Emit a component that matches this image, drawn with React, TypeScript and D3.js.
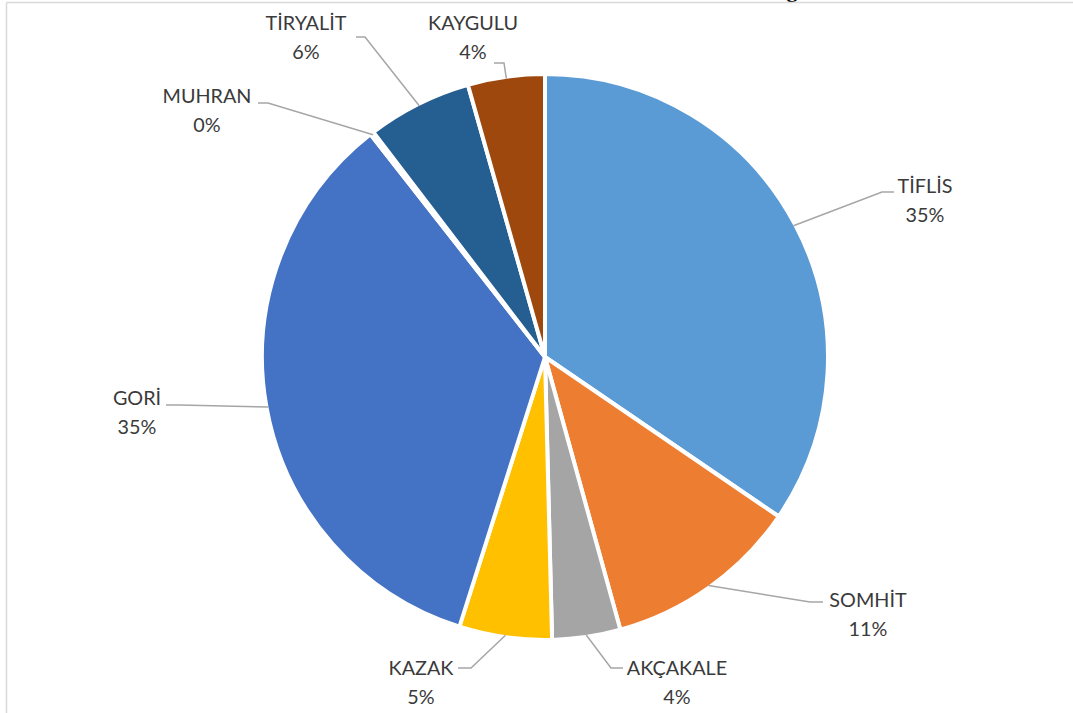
import React from 'react'
import * as d3 from 'd3'

// slice order: clockwise from 12 o'clock
const categories = ['TİFLİS', 'SOMHİT', 'AKÇAKALE', 'KAZAK', 'GORİ', 'MUHRAN', 'TİRYALİT', 'KAYGULU']
const values = [34.6, 11.2, 3.9, 5.3, 34.6, 0.2, 6.0, 4.4]
const colors = ['#5B9BD5', '#ED7D31', '#A5A5A5', '#FFC000', '#4472C4', '#70AD47', '#255E91', '#9E480E']

const width = 1073
const height = 713
const cx = 545
const cy = 357
const radius = 283

// label layout: text centre/baseline, elbow and end of the leader line
const labelLayout: Record<string, { x: number; y: number; elbow: [number, number]; end: [number, number] }> = {
  'TİFLİS': { x: 925, y: 193, elbow: [882, 192], end: [894, 192] },
  'SOMHİT': { x: 868, y: 607, elbow: [810, 602], end: [823, 602] },
  'AKÇAKALE': { x: 677, y: 675, elbow: [611, 668], end: [623, 668] },
  'KAZAK': { x: 421, y: 675, elbow: [471, 668], end: [458, 668] },
  'GORİ': { x: 137, y: 405, elbow: [180, 405], end: [166, 405] },
  'MUHRAN': { x: 207, y: 103, elbow: [268, 103], end: [258, 103] },
  'TİRYALİT': { x: 306, y: 30, elbow: [365, 37], end: [356, 37] },
  'KAYGULU': { x: 473, y: 30, elbow: [504, 63], end: [494, 63] },
}

export default function App() {
  const total = d3.sum(values)
  const pie = d3.pie<number>().sort(null).value(d => d)
  const arcs = pie(values)
  const arc = d3.arc<d3.PieArcDatum<number>>().innerRadius(0).outerRadius(radius)
  const rim = radius - 2

  const line = d3.line()

  return (
    <svg width={width} height={height} style={{ position: 'absolute', left: 0, top: 0, background: '#fff' }}
      fontFamily="Lato, 'Open Sans', sans-serif">
      {/* cut-off title glyph and frame */}
      <text x={792} y={-3} textAnchor="middle" fontFamily="'Liberation Serif', serif" fontWeight="bold" fontSize={22} fill="#000">g</text>
      <line x1={6.5} y1={2.5} x2={width} y2={2.5} stroke="#d9d9d9" strokeWidth={1.5} />
      <line x1={6.5} y1={2.5} x2={6.5} y2={height} stroke="#d9d9d9" strokeWidth={1.5} />

      <g transform={`translate(${cx},${cy})`}>
        {arcs.map((a, i) => (
          <path key={categories[i]} d={arc(a) || ''} fill={colors[i]} stroke="#fff" strokeWidth={4} strokeLinejoin="round" />
        ))}
      </g>

      {arcs.map((a, i) => {
        const name = categories[i]
        const lay = labelLayout[name]
        const mid = (a.startAngle + a.endAngle) / 2
        const start: [number, number] = [cx + rim * Math.sin(mid), cy - rim * Math.cos(mid)]
        const pct = Math.round((values[i] / total) * 100) + '%'
        return (
          <g key={name}>
            <path d={line([start, lay.elbow, lay.end]) || ''} fill="none" stroke="#a6a6a6" strokeWidth={1.5} />
            <text x={lay.x} y={lay.y} textAnchor="middle" fontSize={19.8} fill="#3a3a3a">{name}</text>
            <text x={lay.x} y={lay.y + 29} textAnchor="middle" fontSize={19.8} fill="#3a3a3a">{pct}</text>
          </g>
        )
      })}
    </svg>
  )
}
